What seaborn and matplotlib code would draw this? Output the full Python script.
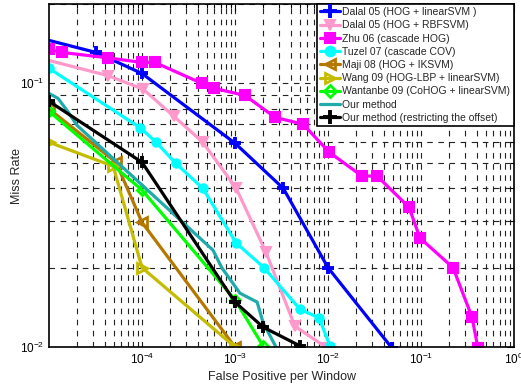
import matplotlib
matplotlib.use("Agg")
import matplotlib.pyplot as plt
import seaborn as sns
import pandas as pd
from matplotlib.ticker import LogLocator, LogFormatterSciNotation, NullFormatter

# ---- data ----
dalal_lin_x = [5e-6, 3.2e-5, 1e-4, 1e-3, 3.3e-3, 1e-2, 4.88e-2]
dalal_lin_y = [0.155, 0.131, 0.109, 0.0593, 0.040, 0.020, 0.0099]

dalal_rbf_x = [5e-6, 4.3e-5, 1.03e-4, 2.2e-4, 4.5e-4, 1.03e-3, 2.15e-3, 4.4e-3, 9.8e-3]
dalal_rbf_y = [0.13, 0.107, 0.095, 0.075, 0.0598, 0.040, 0.0229, 0.012, 0.0099]

zhu_x = [1e-5, 1.38e-5, 4.3e-5, 1e-4, 1.38e-4, 4.4e-4, 5.9e-4, 1.28e-3, 2.7e-3, 5.4e-3,
         1.03e-2, 2.32e-2, 3.37e-2, 7.43e-2, 9.75e-2, 0.221, 0.353, 0.41]
zhu_y = [0.1345, 0.131, 0.125, 0.120, 0.120, 0.100, 0.0958, 0.090, 0.0743, 0.070,
         0.0548, 0.0445, 0.0445, 0.0339, 0.0259, 0.020, 0.013, 0.0099]

tuzel_x = [1e-5, 9.5e-5, 1.42e-4, 2.3e-4, 4.5e-4, 1.03e-3, 2.05e-3, 5.0e-3, 8.0e-3, 1.05e-2]
tuzel_y = [0.114, 0.068, 0.0598, 0.0498, 0.040, 0.0248, 0.020, 0.0139, 0.0129, 0.0101]

maji_x = [1e-5, 5.25e-5, 1e-4, 1e-3]
maji_y = [0.080, 0.0502, 0.0297, 0.0100]

wang_x = [1e-5, 4.9e-5, 1e-4, 1e-3]
wang_y = [0.0598, 0.0485, 0.020, 0.0100]

watanabe_x = [1e-5, 1e-4, 1e-3, 2.0e-3]
watanabe_y = [0.0783, 0.0394, 0.0151, 0.0101]

ours_x = [1e-5, 1.25e-5, 1.56e-5, 2.0e-5, 5.8e-4, 7.2e-4, 1.13e-3, 1.73e-3, 2.0e-3, 2.8e-3]
ours_y = [0.0916, 0.0877, 0.079, 0.0693, 0.0233, 0.020, 0.016, 0.0148, 0.0124, 0.0099]

ours_r_x = [1e-5, 1e-4, 1e-3, 2.0e-3, 5.0e-3]
ours_r_y = [0.0855, 0.0502, 0.0148, 0.0119, 0.0101]

labels = ["Dalal 05 (HOG + linearSVM )", "Dalal 05 (HOG + RBFSVM)", "Zhu 06 (cascade HOG)",
          "Tuzel 07 (cascade COV)", "Maji 08 (HOG + IKSVM)", "Wang 09 (HOG-LBP + linearSVM)",
          "Wantanbe 09 (CoHOG + linearSVM)", "Our method", "Our method (restricting the offset)"]
x_ticks = [1e-4, 1e-3, 1e-2, 1e-1, 1e0]
y_ticks = [1e-2, 1e-1]

# ---- style ----
sns.set_style("white")
plt.rcParams["font.family"] = ["Liberation Sans", "DejaVu Sans"]
plt.rcParams["mathtext.fontset"] = "custom"
plt.rcParams["mathtext.rm"] = "Liberation Sans"
plt.rcParams["mathtext.it"] = "Liberation Sans:italic"
plt.rcParams["mathtext.bf"] = "Liberation Sans:bold"

fig = plt.figure(figsize=(5.21, 3.87), dpi=100)
ax = fig.add_axes([49 / 521, 40 / 387, 465 / 521, 343 / 387])
ax.set_xscale("log")
ax.set_yscale("log")

series = [
    (dalal_lin_x, dalal_lin_y, "#0000FF", "P"),
    (dalal_rbf_x, dalal_rbf_y, "#FF99CC", "v"),
    (zhu_x, zhu_y, "#FF00FF", "s"),
    (tuzel_x, tuzel_y, "#00FFFF", "o"),
    (maji_x, maji_y, "#B47800", "<"),
    (wang_x, wang_y, "#C4BC00", ">"),
    (watanabe_x, watanabe_y, "#00FF00", "D"),
    (ours_x, ours_y, "#20ABAB", None),
    (ours_r_x, ours_r_y, "#000000", "P"),
]

for (xs, ys, col, mk), lab in zip(series, labels):
    df = pd.DataFrame({"x": xs, "y": ys})
    kw = dict(color=col, linewidth=2.3, label=lab)
    if mk is not None:
        ms = {"P": 7, "v": 6.5, "s": 6.5, "o": 6, "D": 5.5, "<": 6.5, ">": 6.5}[mk]
        kw.update(marker=mk, markersize=ms, markeredgecolor=col,
                  markerfacecolor=col, markeredgewidth=1.5)
        if mk == "P":
            kw.update(marker="+", markersize=9, markeredgewidth=2.8)
        if mk in ("D", "<", ">"):
            kw.update(markerfacecolor="none", markeredgewidth=2.0)
    sns.lineplot(data=df, x="x", y="y", ax=ax, sort=False, estimator=None, **kw)

ax.set_xlim(1e-5, 1e0)
ax.set_ylim(1e-2, 0.2)

ax.xaxis.set_major_locator(plt.FixedLocator(x_ticks))
ax.yaxis.set_major_locator(plt.FixedLocator(y_ticks))
ax.xaxis.set_major_formatter(LogFormatterSciNotation())
ax.yaxis.set_major_formatter(LogFormatterSciNotation())
ax.xaxis.set_minor_locator(LogLocator(base=10, subs=range(2, 10), numticks=20))
ax.yaxis.set_minor_locator(LogLocator(base=10, subs=range(2, 10), numticks=20))
ax.xaxis.set_minor_formatter(NullFormatter())
ax.yaxis.set_minor_formatter(NullFormatter())

ax.grid(True, which="both", color="#222222", linestyle=(0, (5, 5)), linewidth=0.8)
ax.set_axisbelow(True)
ax.tick_params(which="both", direction="in", top=True, right=True, colors="black",
               labelsize=8.5)
ax.tick_params(which="major", length=5, width=0.8)
ax.tick_params(which="minor", length=3, width=0.8)
for s in ax.spines.values():
    s.set_color("black")
    s.set_linewidth(1.2)

ax.set_xlabel("False Positive per Window", fontsize=9, labelpad=3)
ax.set_ylabel("Miss Rate", fontsize=9, labelpad=-2)

leg = ax.legend(loc="upper right", bbox_to_anchor=(0.999, 1.0), borderaxespad=0.0,
                fontsize=7.5, handlelength=1.9, handletextpad=0.25, labelspacing=0.31,
                borderpad=0.3, markerscale=1.15, frameon=True, fancybox=False,
                framealpha=1)
leg.get_frame().set_edgecolor("black")
leg.get_frame().set_linewidth(1.2)

fig.savefig("out.png", dpi=100)
